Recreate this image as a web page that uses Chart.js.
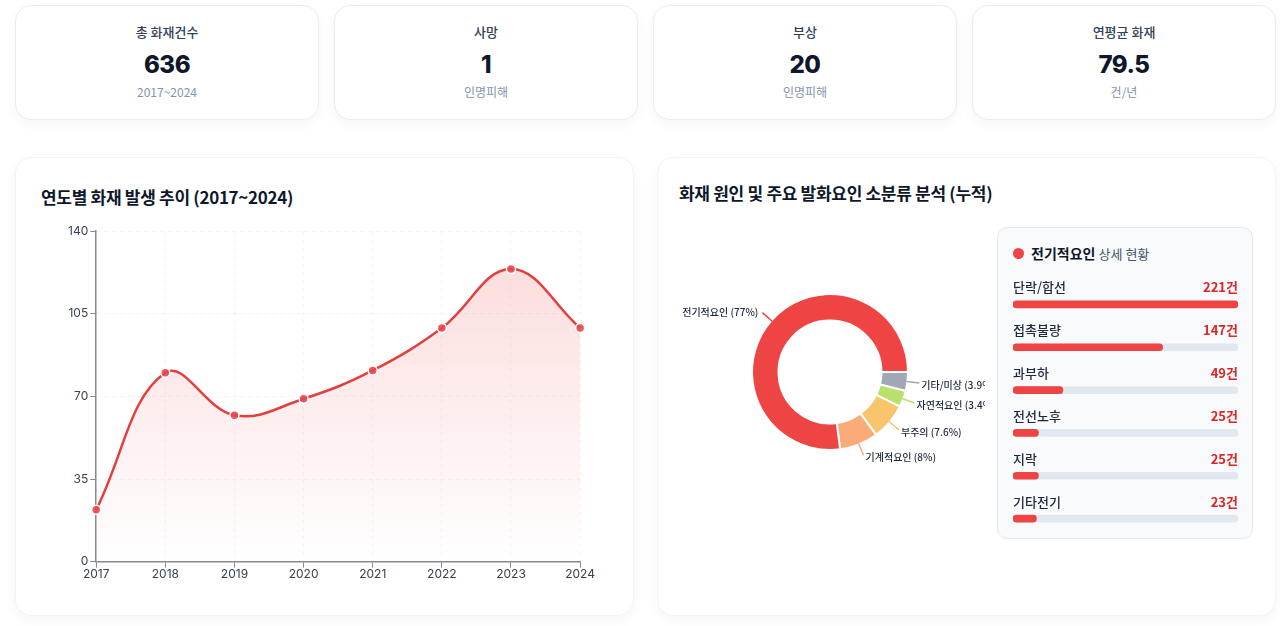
<!DOCTYPE html>
<html>
<head>
<meta charset="utf-8">
<title>화재 현황</title>
<script src="https://cdn.jsdelivr.net/npm/chart.js"></script>
<style>
  body { margin: 0; background: #fff; font-family: "Noto Sans CJK KR", "Noto Sans", sans-serif; color: #0f172a; }
  .card { position: absolute; background: #fff; border: 1px solid #e8edf5; border-radius: 16px;
          box-shadow: 0 4px 14px rgba(15, 23, 42, 0.04); box-sizing: border-box; }
  .kpi { top: 5px; width: 304px; height: 115px; text-align: center; }
  .kpi .lbl { position: absolute; left: 0; right: 0; top: 16px; font-size: 13px; font-weight: 500; color: #334155; }
  .kpi .val { position: absolute; left: 0; right: 0; top: 44px; font-family: Inter, sans-serif; font-size: 24px; font-weight: 800; color: #0f172a; letter-spacing: -0.5px; }
  .kpi .sub { position: absolute; left: 0; right: 0; top: 77px; font-size: 12px; color: #8593ab; }
  .big { top: 157px; width: 619px; height: 459px; border-color: #f1f4f8; }
  .ttl { position: absolute; font-size: 17px; font-weight: 700; color: #0f172a; letter-spacing: -0.3px; }
  .box { position: absolute; }
  .panel { position: absolute; left: 997px; top: 227px; width: 256px; height: 312px; box-sizing: border-box;
           background: #f8fafc; border: 1px solid #e2e8f0; border-radius: 10px; }
  .panel .dot { position: absolute; left: 15px; top: 20px; width: 11px; height: 11px; border-radius: 50%; background: #ef4444; }
  .panel .hd { position: absolute; left: 33px; top: 15px; font-size: 14px; font-weight: 700; color: #0f172a; }
  .panel .hd span { font-size: 13px; font-weight: 400; color: #475569; }
</style>
</head>
<body>

<div class="card kpi" style="left:15px"><div class="lbl">총 화재건수</div><div class="val">636</div><div class="sub">2017~2024</div></div>
<div class="card kpi" style="left:334px"><div class="lbl">사망</div><div class="val">1</div><div class="sub">인명피해</div></div>
<div class="card kpi" style="left:653px"><div class="lbl">부상</div><div class="val">20</div><div class="sub">인명피해</div></div>
<div class="card kpi" style="left:972px"><div class="lbl">연평균 화재</div><div class="val">79.5</div><div class="sub">건/년</div></div>

<div class="card big" style="left:15px"></div>
<div class="card big" style="left:657px"></div>

<div class="ttl" style="left:41px; top:184px">연도별 화재 발생 추이 (2017~2024)</div>
<div class="ttl" style="left:679px; top:180px">화재 원인 및 주요 발화요인 소분류 분석 (누적)</div>

<div class="box" style="left:66px; top:222px; width:529px; height:360px"><canvas id="lineChart"></canvas></div>
<div class="box" style="left:675px; top:222px; width:310px; height:300px"><canvas id="donutChart"></canvas></div>

<div class="panel">
  <div class="dot"></div>
  <div class="hd">전기적요인 <span>상세 현황</span></div>
</div>
<div class="box" style="left:1013px; top:268px; width:225px; height:272px"><canvas id="barChart"></canvas></div>

<script>
// 연도별 화재 건수
const years = ['2017', '2018', '2019', '2020', '2021', '2022', '2023', '2024'];
const fireCounts = [22, 80, 62, 69, 81, 99, 124, 99];

// 화재 원인 (%)
const causeLabels = ['기타/미상', '자연적요인', '부주의', '기계적요인', '전기적요인'];
const causePct = [3.9, 3.4, 7.6, 8, 77];
const causeColors = ['#a1a8b5', '#b8e06c', '#f9c56c', '#fbab78', '#ef4444'];

// 전기적요인 소분류
const detailLabels = ['단락/합선', '접촉불량', '과부하', '전선노후', '지락', '기타전기'];
const detailCounts = [221, 147, 49, 25, 25, 23];

const detailMax = Math.max(...detailCounts);
const trackValues = detailCounts.map(() => detailMax);

// line chart
new Chart(document.getElementById('lineChart'), {
  type: 'line',
  data: {
    labels: years,
    datasets: [{
      data: fireCounts,
      borderColor: '#e53e3e',
      borderWidth: 2.5,
      tension: 0.4,
      fill: true,
      backgroundColor: function(context) {
        const area = context.chart.chartArea;
        if (!area) return 'rgba(239,68,68,0.15)';
        const g = context.chart.ctx.createLinearGradient(0, area.top, 0, area.bottom);
        g.addColorStop(0, 'rgba(239,68,68,0.2)');
        g.addColorStop(1, 'rgba(239,68,68,0)');
        return g;
      },
      pointRadius: 4.5,
      pointBackgroundColor: 'rgba(233,71,76,0.9)',
      pointBorderColor: '#fff',
      pointBorderWidth: 1.5
    }]
  },
  options: {
    responsive: true,
    maintainAspectRatio: false,
    animation: false,
    plugins: { legend: { display: false }, tooltip: { enabled: false } },
    layout: { padding: { top: 3, right: 0 } },
    scales: {
      x: {
        offset: false,
        grid: { color: 'rgba(0,0,0,0.045)', tickColor: '#8a8a8a', tickLength: 6 },
        border: { color: '#8a8a8a', width: 1.5, dash: [4, 4] },
        ticks: { color: '#374151', font: { family: 'Inter', size: 12 }, padding: 0 }
      },
      y: {
        min: 0, max: 140,
        grid: { color: 'rgba(0,0,0,0.045)', tickColor: '#8a8a8a', tickLength: 6 },
        border: { color: '#8a8a8a', width: 1.5, dash: [4, 4] },
        ticks: { stepSize: 35, color: '#374151', font: { family: 'Inter', size: 12 }, padding: 2 }
      }
    }
  }
});

// donut labels with leader lines
const outLabels = {
  id: 'outLabels',
  afterDatasetsDraw(chart) {
    const ctx = chart.ctx;
    const meta = chart.getDatasetMeta(0);
    ctx.save();
    ctx.font = '500 10px "Noto Sans CJK KR", sans-serif';
    ctx.textBaseline = 'middle';
    meta.data.forEach((arc, i) => {
      const mid = (arc.startAngle + arc.endAngle) / 2;
      const cos = Math.cos(mid), sin = Math.sin(mid);
      const r1 = arc.outerRadius - 1, r2 = arc.outerRadius + 12;
      const x1 = arc.x + r1 * cos, y1 = arc.y + r1 * sin;
      const x2 = arc.x + r2 * cos, y2 = arc.y + r2 * sin;
      ctx.strokeStyle = causeColors[i];
      ctx.lineWidth = 1.5;
      ctx.beginPath();
      ctx.moveTo(x1, y1);
      ctx.lineTo(x2, y2);
      ctx.stroke();
      ctx.fillStyle = '#1e293b';
      const txt = causeLabels[i] + ' (' + causePct[i] + '%)';
      if (cos >= 0) {
        ctx.textAlign = 'left';
        ctx.fillText(txt, x2 + 2, y2 + 2);
      } else {
        ctx.textAlign = 'right';
        ctx.fillText(txt, x2 - 4, y2);
      }
    });
    ctx.restore();
  }
};

new Chart(document.getElementById('donutChart'), {
  type: 'doughnut',
  data: {
    labels: causeLabels,
    datasets: [{
      data: causePct,
      backgroundColor: causeColors,
      borderColor: '#fff',
      borderWidth: 2
    }]
  },
  options: {
    responsive: true,
    maintainAspectRatio: false,
    animation: false,
    rotation: 90,
    radius: 78,
    cutout: '66%',
    plugins: { legend: { display: false }, tooltip: { enabled: false } }
  },
  plugins: [outLabels]
});

// detail bars with row labels
const rowLabels = {
  id: 'rowLabels',
  afterDatasetsDraw(chart) {
    const ctx = chart.ctx;
    const area = chart.chartArea;
    const meta = chart.getDatasetMeta(0);
    ctx.save();
    ctx.textBaseline = 'middle';
    meta.data.forEach((bar, i) => {
      ctx.font = '500 13px "Noto Sans CJK KR", sans-serif';
      ctx.fillStyle = '#1e293b';
      ctx.textAlign = 'left';
      ctx.fillText(detailLabels[i], area.left, bar.y - 17);
      ctx.font = '700 13px "Noto Sans CJK KR", sans-serif';
      ctx.fillStyle = '#dc2626';
      ctx.textAlign = 'right';
      ctx.fillText(detailCounts[i] + '건', area.right, bar.y - 17);
    });
    ctx.restore();
  }
};

new Chart(document.getElementById('barChart'), {
  type: 'bar',
  data: {
    labels: detailLabels,
    datasets: [
      { data: detailCounts, backgroundColor: '#ef4444', borderRadius: 4, borderSkipped: false,
        barThickness: 7, grouped: false, order: 0 },
      { data: trackValues, backgroundColor: '#e2e8f0', borderRadius: 4, borderSkipped: false,
        barThickness: 7, grouped: false, order: 1 }
    ]
  },
  options: {
    indexAxis: 'y',
    responsive: true,
    maintainAspectRatio: false,
    animation: false,
    layout: { padding: { top: 15, bottom: 0, left: 0, right: 0 } },
    plugins: { legend: { display: false }, tooltip: { enabled: false } },
    scales: {
      x: { display: false, min: 0, max: detailMax },
      y: { display: false }
    }
  },
  plugins: [rowLabels]
});
</script>
</body>
</html>
